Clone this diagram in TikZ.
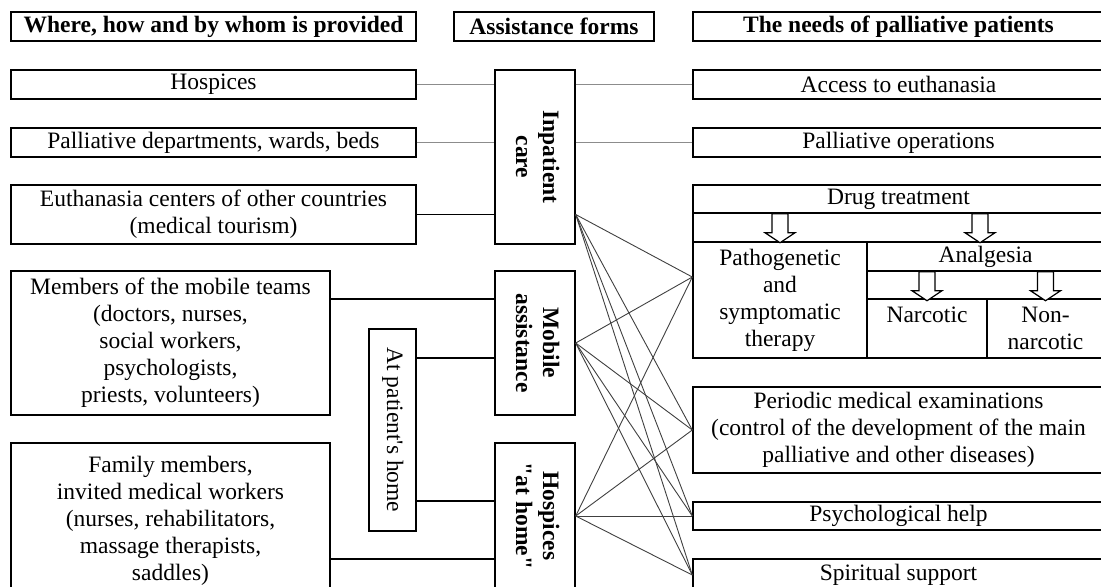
\documentclass[tikz,border=0pt]{standalone}
\usepackage{fontspec}
\setmainfont{Liberation Serif}[Ligatures=TeXOff]
\usepackage{tikz}
\newcommand{\turned}[1]{\rotatebox{-90}{\begin{tabular}{@{}c@{}}#1\end{tabular}}}
\begin{document}
\begin{tikzpicture}[x=0.5pt,y=-0.5pt,
    box/.style={draw,line width=0.7pt,rectangle,inner sep=0pt,align=center,font=\fontsize{11.75}{13.5}\selectfont},
    head/.style={box,font=\fontsize{11.75}{13.5}\selectfont\bfseries,minimum height=14.5pt},
    form/.style={box,font=\fontsize{11.75}{13.5}\selectfont\bfseries,minimum width=40pt},
    lwide/.style={minimum width=202.5pt},
    rwide/.style={minimum width=205.5pt},
    downarr/.pic={\draw[line width=0.6pt,fill=white] (-8,0) -- (8,0) -- (8,19) -- (15,19) -- (0,29) -- (-15,19) -- (-8,19) -- cycle;}]
            \path[use as bounding box] (0,0) rectangle (1101,586);
            \clip (0,0) rectangle (1101,586);
            \node[head] [lwide]                 (hw)   at (213.5,26.5) {Where, how and by whom is provided};
            \node[head] [minimum width=100pt]   (hf)   at (554,26.5)   {Assistance forms};
            \node[head] [rwide]                 (hn)   at (898.5,26.5) {The needs of palliative patients};
            \node[box] [lwide,minimum height=14.5pt] (hosp) at (213.5,84.5)  {Hospices};
            \node[box] [lwide,minimum height=14.5pt] (dept) at (213.5,142.5) {Palliative departments, wards, beds};
            \node[box] [lwide,minimum height=29.5pt] (euth) at (213.5,214.5) {Euthanasia centers of other countries\\(medical tourism)};
            \node[box] [minimum width=159.5pt,minimum height=72pt] (team) at (170.5,343) {Members of the mobile teams\\(doctors, nurses,\\social workers,\\psychologists,\\priests, volunteers)};
            \node[box] [minimum width=159.5pt,minimum height=78pt] (fam) at (170.5,521) {Family members,\\invited medical workers\\(nurses, rehabilitators,\\massage therapists,\\saddles)};
            \node[box] [minimum width=23.5pt,minimum height=101pt] (home) at (392.5,430) {\turned{At patient's home}};
            \node[form] [minimum height=87pt] (inp) at (535,157) {\turned{Inpatient\\care}};
            \node[form] [minimum height=72pt] (mob) at (535,343) {\turned{Mobile\\assistance}};
            \node[form] [minimum height=73pt] (hah) at (535,516) {\turned{Hospices\\"at home"}};
            \node[box] [rwide,minimum height=14.5pt] (acc)  at (898.5,84.5)  {Access to euthanasia};
            \node[box] [rwide,minimum height=14.5pt] (ops)  at (898.5,142.5) {Palliative operations};
            \node[box] [rwide,minimum height=86.5pt] (drugs) at (898.5,271.5) {};
            \node[box] [rwide,minimum height=14pt]   (drug) at (898.5,199)   {Drug treatment};
            \node[box] [minimum width=87pt,minimum height=58pt]    (pat)  at (780,300)    {Pathogenetic\\and\\symptomatic\\therapy};
            \node[box] [minimum width=118.5pt,minimum height=14.5pt] (anl) at (985.5,256.5) {Analgesia};
            \node[box] [minimum width=60pt,text height=11.5pt,text depth=18pt] (narc) at (927,328.5) {Narcotic};
            \node[box] [minimum width=58.5pt,minimum height=29.5pt] (nonn) at (1045.5,328.5) {Non-\\narcotic};
            \node[box] [rwide,minimum height=43pt]   (per)  at (898.5,430)   {Periodic medical examinations\\(control of the development of the main\\palliative and other diseases)};
            \node[box] [rwide,minimum height=14pt]   (psy)  at (898.5,516)   {Psychological help};
            \node[box] [rwide,minimum height=16pt]   (spi)  at (898.5,575)   {Spiritual support};
            \pic at (drug.south -| pat) {downarr};
            \pic at (drug.south -| 980,0) {downarr};
            \pic at (anl.south -| narc) {downarr};
            \pic at (anl.south -| nonn) {downarr};
            \tikzset{faint/.style={line width=0.5pt,black!45},link/.style={line width=0.7pt},fan/.style={line width=0.45pt,black!75}}
            \path (hosp.east) edge [faint] (hosp.east -| inp.west);
            \path (dept.east) edge [faint] (dept.east -| inp.west);
            \path (euth.east) edge [link]  (euth.east -| inp.west);
            \path (team.east |- 0,299) edge [link] (mob.west |- 0,299);
            \path (home.east |- 0,358) edge [link] (mob.west |- 0,358);
            \path (home.east |- 0,501) edge [link] (hah.west |- 0,501);
            \path (fam.east |- 0,559)  edge [link] (hah.west |- 0,559);
            \path (inp.east |- acc) edge [faint] (acc.west);
            \path (inp.east |- ops) edge [faint] (ops.west);
            \coordinate (inpout) at (inp.east |- euth.east);
            \coordinate (patin) at (pat.west |- 0,277);
            \foreach \src in {inpout,mob.east,hah.east}
              \foreach \dst in {patin,per.west,psy.west,spi.west}
                \path (\src) edge [fan] (\dst);
        \end{tikzpicture}
\end{document}
